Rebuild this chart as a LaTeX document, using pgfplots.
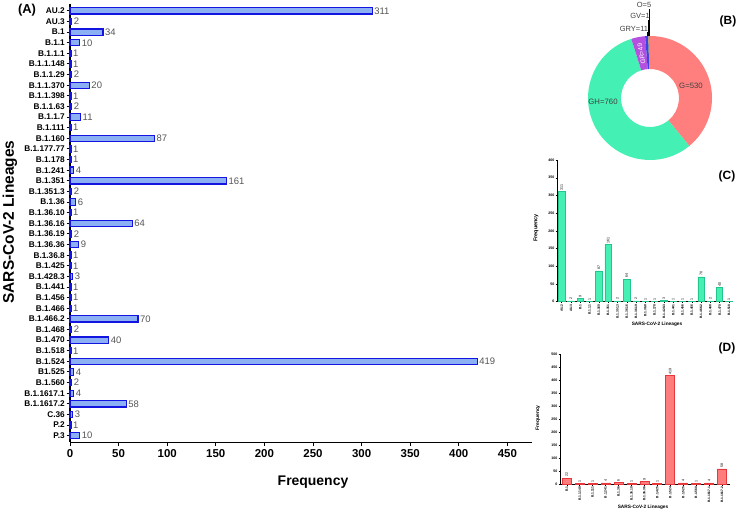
\documentclass[border=0pt]{standalone}
\usepackage{fontspec}
\setmainfont{Liberation Sans}
\usepackage{pgfplots}
\usepackage{pgfplotstable}
\pgfplotsset{compat=1.18}
\definecolor{barA}{HTML}{8CB0F4}
\definecolor{edgeA}{HTML}{1414E0}
\definecolor{barC}{HTML}{46F0B4}
\definecolor{edgeC}{HTML}{22C58A}
\definecolor{barD}{HTML}{FF7C7C}
\definecolor{edgeD}{HTML}{E6383C}
\definecolor{cG}{HTML}{FF7F7F}
\definecolor{cGH}{HTML}{44F0B4}
\definecolor{cGR}{HTML}{B450E0}
\definecolor{cGRY}{HTML}{4040E8}
\definecolor{cGV}{HTML}{2E9E5C}
\definecolor{cO}{HTML}{FF8C1A}
\definecolor{lbl}{HTML}{555555}

\pgfplotstableread{
i v
0 311
1 2
2 34
3 10
4 1
5 1
6 2
7 20
8 1
9 2
10 11
11 1
12 87
13 1
14 1
15 4
16 161
17 2
18 6
19 1
20 64
21 2
22 9
23 1
24 1
25 3
26 1
27 1
28 1
29 70
30 2
31 40
32 1
33 419
34 4
35 2
36 4
37 58
38 3
39 1
40 10
}\tabA

\pgfplotstableread{
i v
0 311
1 2
2 9
3 1
4 87
5 161
6 2
7 64
8 2
9 1
10 1
11 3
12 1
13 1
14 1
15 70
16 2
17 40
18 1
}\tabC

\pgfplotstableread{
i v
0 22
1 1
2 1
3 4
4 6
5 1
6 9
7 1
8 419
9 4
10 1
11 4
12 58
}\tabD

\begin{document}
\begin{tikzpicture}
\path[use as bounding box] (0bp,0bp) rectangle (739bp,512bp);

% ---------- Panel A ----------
\begin{axis}[
  at={(70bp,69.7bp)}, anchor=south west, scale only axis,
  width=461.7bp, height=438bp,
  xbar, bar width=6.3bp,
  xmin=0, xmax=475, ymin=-0.62, ymax=40.62, y dir=reverse,
  ytick={0,...,40},
  yticklabels={AU.2,AU.3,B.1,B.1.1,B.1.1.1,B.1.1.148,B.1.1.29,B.1.1.370,B.1.1.398,B.1.1.63,B.1.1.7,B.1.111,B.1.160,B.1.177.77,B.1.178,B.1.241,B.1.351,B.1.351.3,B.1.36,B.1.36.10,B.1.36.16,B.1.36.19,B.1.36.36,B.1.36.8,B.1.425,B.1.428.3,B.1.441,B.1.456,B.1.466,B.1.466.2,B.1.468,B.1.470,B.1.518,B.1.524,B1.525,B.1.560,B.1.1617.1,B.1.1617.2,C.36,P.2,P.3},
  xtick={0,50,...,450},
  axis lines*=left, axis line style={line width=1.6bp},
  tick style={black, line width=1bp}, tick align=outside, major tick length=3.5bp,
  y tick label style={font=\fontsize{8.3}{9}\selectfont\bfseries, inner sep=1.5bp},
  x tick label style={font=\fontsize{11.5}{12}\selectfont\bfseries},
  /pgf/number format/assume math mode=true,
  nodes near coords,
  nodes near coords style={font=\fontsize{9.5}{10}\selectfont, text=lbl, anchor=west, inner sep=1.5bp},
  clip=false,
]
\addplot[fill=barA, draw=edgeA, line width=1.1bp] table[x=v, y=i]{\tabA};
\end{axis}
\node[font=\fontsize{14}{15}\selectfont\bfseries] at (313bp,30bp) {Frequency};
\node[font=\fontsize{15.5}{16}\selectfont\bfseries, rotate=90] at (10bp,290bp) {SARS-CoV-2 Lineages};
\node[font=\fontsize{13}{14}\selectfont\bfseries] at (27bp,502bp) {(A)};

% ---------- Panel B (donut) ----------
\pgfmathsetmacro\aA{90}
\pgfmathsetmacro\aB{\aA-530/1356*360}
\pgfmathsetmacro\aC{\aB-760/1356*360}
\pgfmathsetmacro\aD{\aC-49/1356*360}
\pgfmathsetmacro\aE{\aD-11/1356*360}
\pgfmathsetmacro\aF{\aE-1/1356*360}
\pgfmathsetmacro\aG{\aF-5/1356*360}
\begin{axis}[
  at={(650bp,414bp)}, anchor=center, scale only axis,
  width=124bp, height=124bp, hide axis,
  xmin=-1, xmax=1, ymin=-1, ymax=1, clip=false,
]
\fill[cG]   (axis cs:0,0) ++(\aA:62bp) arc[start angle=\aA, end angle=\aB, radius=62bp] -- ++(\aB:-33bp) arc[start angle=\aB, end angle=\aA, radius=29bp] -- cycle;
\fill[cGH]  (axis cs:0,0) ++(\aB:62bp) arc[start angle=\aB, end angle=\aC, radius=62bp] -- ++(\aC:-33bp) arc[start angle=\aC, end angle=\aB, radius=29bp] -- cycle;
\fill[cGR]  (axis cs:0,0) ++(\aC:62bp) arc[start angle=\aC, end angle=\aD, radius=62bp] -- ++(\aD:-33bp) arc[start angle=\aD, end angle=\aC, radius=29bp] -- cycle;
\fill[cGRY] (axis cs:0,0) ++(\aD:62bp) arc[start angle=\aD, end angle=\aE, radius=62bp] -- ++(\aE:-33bp) arc[start angle=\aE, end angle=\aD, radius=29bp] -- cycle;
\fill[cGV]  (axis cs:0,0) ++(\aE:62bp) arc[start angle=\aE, end angle=\aF, radius=62bp] -- ++(\aF:-33bp) arc[start angle=\aF, end angle=\aE, radius=29bp] -- cycle;
\fill[cO]   (axis cs:0,0) ++(\aF:62bp) arc[start angle=\aF, end angle=\aG, radius=62bp] -- ++(\aG:-33bp) arc[start angle=\aG, end angle=\aF, radius=29bp] -- cycle;
\end{axis}
\node[font=\fontsize{7.8}{8}\selectfont, text=black!75] at (691bp,426bp) {G=530};
\node[font=\fontsize{7.8}{8}\selectfont, text=black!75] at (603bp,410bp) {GH=760};
\node[font=\fontsize{6.5}{7}\selectfont, text=white, rotate=101] at (641.5bp,458bp) {GR=49};
\draw[black, line width=0.7bp] (649.7bp,476bp) -- (649.7bp,503bp);
\draw[black, line width=0.7bp] (648.6bp,476bp) -- (648.6bp,492bp);
\draw[black, line width=0.7bp] (647.3bp,476bp) -- (647.3bp,480bp);
\node[font=\fontsize{7.5}{8}\selectfont, text=black!75] at (644bp,507bp) {O=5};
\node[font=\fontsize{7.5}{8}\selectfont, text=black!75] at (640bp,496bp) {GV=1};
\node[font=\fontsize{7.5}{8}\selectfont, text=black!75] at (634bp,483bp) {GRY=11};
\node[font=\fontsize{12}{13}\selectfont\bfseries] at (728bp,491bp) {(B)};

% ---------- Panel C ----------
\begin{axis}[
  at={(557bp,210.3bp)}, anchor=south west, scale only axis,
  width=174.7bp, height=141.7bp,
  ybar, bar width=6.3bp,
  xmin=-0.5, xmax=18.3, ymin=0, ymax=400,
  ytick={0,50,...,400},
  xtick={0,...,18},
  xticklabels={AU.2,AU.3,B.1,B.1.1.1,B.1.160,B.1.351,B.1.351.3,B.1.36.16,B.1.36.19,B.1.36.8,B.1.178,B.1.428.3,B.1.441,B.1.456,B.1.466,B.1.466.2,B.1.468,B.1.470,B.1.518},
  axis lines*=left, axis line style={line width=0.6bp},
  tick style={black, line width=0.4bp}, tick align=outside, major tick length=1.5bp,
  y tick label style={font=\fontsize{3.6}{4}\selectfont\bfseries, inner sep=1bp},
  x tick label style={font=\fontsize{3.3}{4}\selectfont\bfseries, rotate=90, anchor=east, inner sep=1bp},
  /pgf/number format/assume math mode=true,
  nodes near coords,
  nodes near coords style={font=\fontsize{3.6}{4}\selectfont, rotate=90, anchor=west, inner sep=1bp},
  clip=false,
]
\addplot[fill=barC, draw=edgeC, line width=0.6bp] table[x=i, y=v]{\tabC};
\end{axis}
\node[font=\fontsize{5.5}{6}\selectfont\bfseries, rotate=90] at (536bp,284bp) {Frequency};
\node[font=\fontsize{4.8}{5}\selectfont\bfseries] at (657bp,188bp) {SARS-CoV-2 Lineages};
\node[font=\fontsize{12}{13}\selectfont\bfseries] at (727bp,336bp) {(C)};

% ---------- Panel D ----------
\begin{axis}[
  at={(560bp,28bp)}, anchor=south west, scale only axis,
  width=170bp, height=129.7bp,
  ybar, bar width=9bp,
  xmin=-0.52, xmax=12.62, ymin=0, ymax=500,
  ytick={0,50,...,500},
  xtick={0,...,12},
  xticklabels={B.1,B.1.1.148,B.1.111,B.1.241,B.1.36,B.1.36.10,B.1.36.36,B.1.425,B.1.524,B.1.525,B.1.560,B.1.1617.1,B.1.1617.2},
  axis lines*=left, axis line style={line width=0.6bp},
  tick style={black, line width=0.4bp}, tick align=outside, major tick length=1.5bp,
  y tick label style={font=\fontsize{3.6}{4}\selectfont\bfseries, inner sep=1bp},
  x tick label style={font=\fontsize{3.3}{4}\selectfont\bfseries, rotate=90, anchor=east, inner sep=1bp},
  /pgf/number format/assume math mode=true,
  nodes near coords,
  nodes near coords style={font=\fontsize{3.6}{4}\selectfont, rotate=90, anchor=west, inner sep=1bp},
  clip=false,
]
\addplot[fill=barD, draw=edgeD, line width=0.6bp] table[x=i, y=v]{\tabD};
\end{axis}
\node[font=\fontsize{5}{6}\selectfont\bfseries, rotate=90] at (538bp,94bp) {Frequency};
\node[font=\fontsize{4.8}{5}\selectfont\bfseries] at (643bp,4.5bp) {SARS-CoV-2 Lineages};
\node[font=\fontsize{12}{13}\selectfont\bfseries] at (727bp,164bp) {(D)};
\end{tikzpicture}
\end{document}
